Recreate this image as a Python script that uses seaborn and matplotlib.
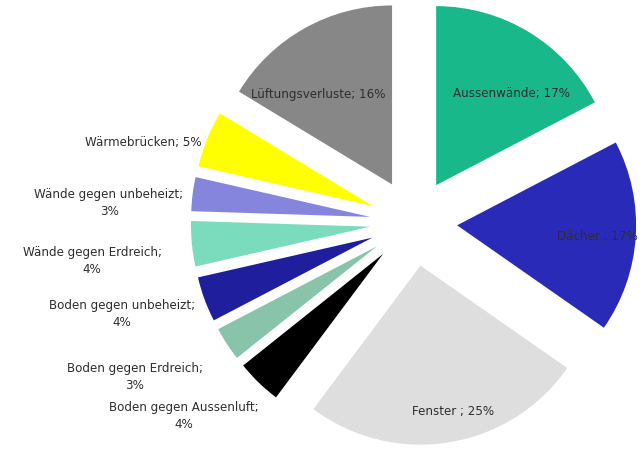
import matplotlib
matplotlib.use("Agg")
import matplotlib.pyplot as plt
import seaborn as sns

categories = ["Aussenwände", "Dächer", "Fenster ", "Boden gegen Aussenluft",
              "Boden gegen Erdreich", "Boden gegen unbeheizt", "Wände gegen Erdreich",
              "Wände gegen unbeheizt", "Wärmebrücken", "Lüftungsverluste"]
values = [17, 17, 25, 4, 3, 4, 4, 3, 5, 16]
label_texts = ["Aussenwände; 17%", "Dächer ; 17%", "Fenster ; 25%",
               "Boden gegen Aussenluft;\n4%", "Boden gegen Erdreich;\n3%",
               "Boden gegen unbeheizt;\n4%", "Wände gegen Erdreich;\n4%",
               "Wände gegen unbeheizt;\n3%", "Wärmebrücken; 5%", "Lüftungsverluste; 16%"]
colors = ["#19b88a", "#2a2ab8", "#dedede", "#000000", "#88c4aa",
          "#1f1f9e", "#7adcbc", "#8585dd", "#ffff00", "#878787"]

# label layout (data coords, pie radius = 1)
label_pos = [(0.545, 0.729), (1.025, -0.070), (0.221, -1.053),
             (-1.282, -1.073), (-1.556, -0.855), (-1.628, -0.503),
             (-1.796, -0.209), (-1.701, 0.112), (-1.182, 0.450), (-0.534, 0.723)]
label_ha = ["center"] * 8 + ["right", "center"]

sns.set_theme(style="white")
plt.rcParams["font.family"] = ["DejaVu Sans"]

fig = plt.figure(figsize=(6.42, 4.52), dpi=100)
ax = fig.add_axes([0, 0, 1, 1])
ax.pie(values, colors=colors, startangle=90, counterclock=False,
       explode=[0.244] * len(values), radius=1, frame=False,
       wedgeprops=dict(linewidth=0))
for t, (x, y), ha in zip(label_texts, label_pos, label_ha):
    ax.text(x, y, t, ha=ha, va="center", fontsize=8.6, color="#2e2e2e",
            multialignment="center", linespacing=1.4)
ax.set_xlim(-2.310, 1.2765)
ax.set_ylim(-1.2765, 1.2486)
ax.set_aspect("auto")
ax.axis("off")
fig.savefig("out.png", dpi=100)
